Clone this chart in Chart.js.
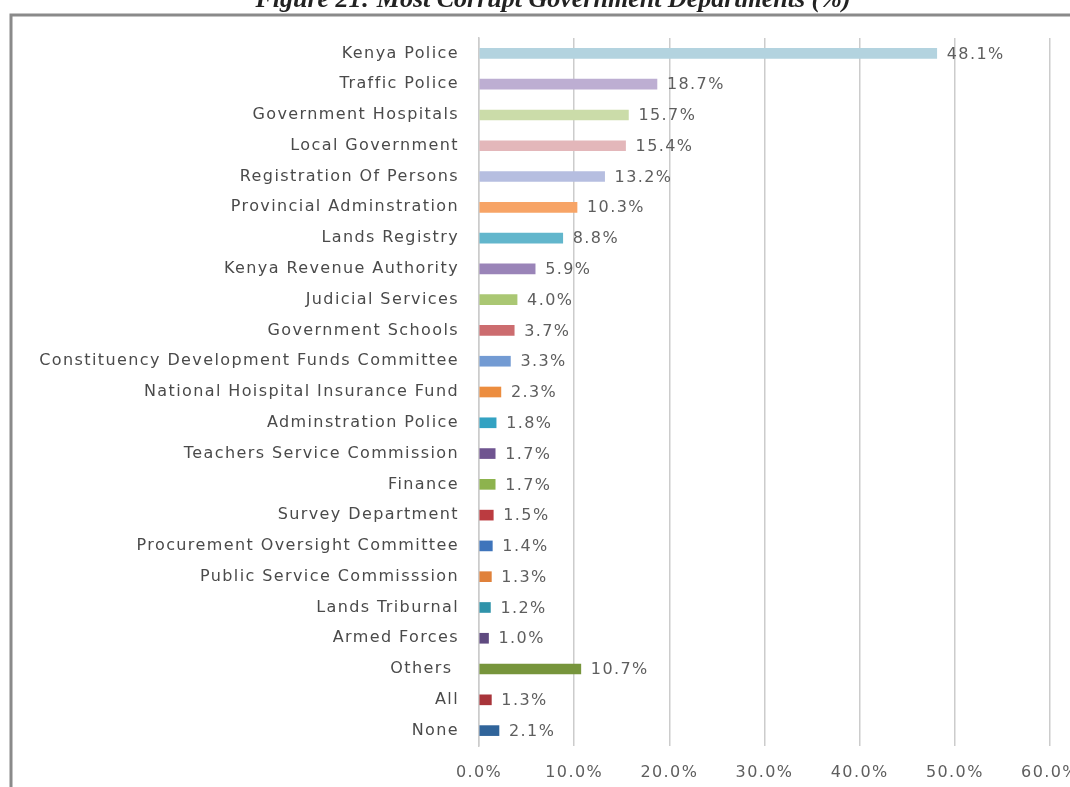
<!DOCTYPE html>
<html>
<head>
<meta charset="utf-8">
<script src="https://cdn.jsdelivr.net/npm/chart.js@4.4.1/dist/chart.umd.min.js"></script>
<style>
  html, body { margin:0; padding:0; background:#fff; overflow:hidden; }
  #wrap { position:relative; width:1100px; height:787px; }
</style>
</head>
<body>
<div id="wrap"><canvas id="Plot"></canvas></div>
<script>
var titleText = "Figure 21: Most Corrupt Government Departments (%)";

var departments = [
  "Kenya Police", "Traffic Police", "Government Hospitals", "Local Government",
  "Registration Of Persons", "Provincial Adminstration", "Lands Registry",
  "Kenya Revenue Authority", "Judicial Services", "Government Schools",
  "Constituency Development Funds Committee", "National Hoispital Insurance Fund",
  "Adminstration Police", "Teachers Service Commission", "Finance",
  "Survey Department", "Procurement Oversight Committee", "Public Service Commisssion",
  "Lands Triburnal", "Armed Forces", "Others ", "All", "None"
];
var percents = [48.1, 18.7, 15.7, 15.4, 13.2, 10.3, 8.8, 5.9, 4.0, 3.7, 3.3, 2.3,
  1.8, 1.7, 1.7, 1.5, 1.4, 1.3, 1.2, 1.0, 10.7, 1.3, 2.1];
var barColors = [
  "#b3d3df", "#bdaed2", "#cbdca9", "#e3b7ba", "#b6bee0", "#f7a466", "#62b6cc",
  "#9a84b8", "#aac773", "#cc6c6f", "#739bd3", "#ec8d3f", "#33a2c2", "#6f5490",
  "#8db34d", "#bb3b40", "#3e74bb", "#e0813a", "#2f93aa", "#5f4a80", "#77953c",
  "#a8343a", "#30649a"
];
var xTicks = [0, 10, 20, 30, 40, 50, 60];

var labelFont = '"DejaVu Sans", sans-serif';
var spacing = '1.4px';

// the old excel text is wide and loose, so space the letters a bit
var spaced = {
  id: 'spaced',
  beforeUpdate: function(chart) { chart.ctx.letterSpacing = spacing; },
  beforeLayout: function(chart) { chart.ctx.letterSpacing = spacing; },
  beforeDraw: function(chart) { chart.ctx.letterSpacing = spacing; }
};

// frame, title, and value labels
var extras = {
  id: 'extras',
  afterDraw: function(chart) {
    var c = chart.ctx;
    c.save();
    c.strokeStyle = '#8a8a8a';
    c.lineWidth = 3;
    c.beginPath();
    c.moveTo(11, 787);
    c.lineTo(11, 15);
    c.lineTo(1100, 15);
    c.stroke();

    c.letterSpacing = '0px';
    c.fillStyle = '#222';
    c.font = 'italic bold 26px "Liberation Serif", serif';
    c.textAlign = 'center';
    c.textBaseline = 'alphabetic';
    c.fillText(titleText, 553, 7);

    var meta = chart.getDatasetMeta(0);
    c.letterSpacing = spacing;
    c.fillStyle = '#5e5e5e';
    c.font = '16px ' + labelFont;
    c.textAlign = 'left';
    c.textBaseline = 'middle';
    meta.data.forEach(function(bar, i) {
      c.fillText(percents[i].toFixed(1) + '%', bar.x + 10, bar.y + 1);
    });
    c.restore();
  }
};

var ctx = document.getElementById("Plot").getContext('2d');
var myChart = new Chart(ctx, {
  type: 'bar',
  data: {
    labels: departments,
    datasets: [{
      data: percents,
      backgroundColor: barColors,
      borderWidth: 0,
      barThickness: 10
    }]
  },
  plugins: [spaced, extras],
  options: {
    indexAxis: 'y',
    responsive: true,
    maintainAspectRatio: false,
    animation: false,
    layout: { padding: { top: 38, right: 50, left: 0, bottom: 0 } },
    plugins: {
      legend: { display: false },
      tooltip: { enabled: false }
    },
    scales: {
      x: {
        min: 0, max: 60,
        afterBuildTicks: function(scale) {
          scale.ticks = xTicks.map(function(v) { return { value: v }; });
        },
        afterFit: function(scale) { scale.height = 41; },
        grid: { color: '#cccccc', lineWidth: 1.5, drawTicks: false },
        border: { display: false },
        ticks: {
          padding: 17,
          color: '#5e5e5e',
          font: { family: labelFont, size: 16 },
          callback: function(v) { return v.toFixed(1) + '%'; }
        }
      },
      y: {
        afterFit: function(scale) { scale.width = 479; },
        grid: { display: false, drawTicks: false },
        border: { display: true, color: '#cccccc', width: 1.5 },
        ticks: {
          padding: 20,
          color: '#4a4a4a',
          autoSkip: false,
          font: { family: labelFont, size: 16 }
        }
      }
    }
  }
});
</script>
</body>
</html>
